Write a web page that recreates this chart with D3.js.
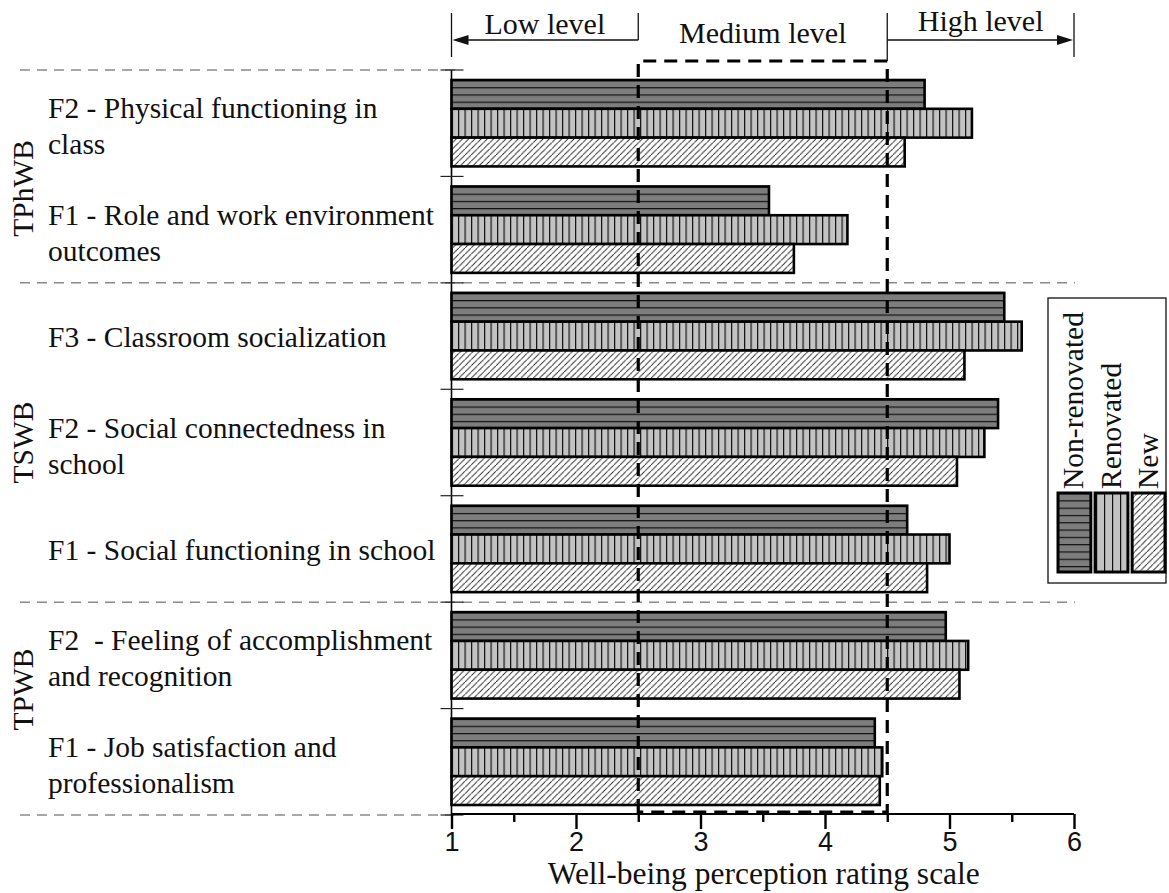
<!DOCTYPE html>
<html>
<head>
<meta charset="utf-8">
<script src="https://cdn.jsdelivr.net/npm/d3@7"></script>
<style>
  html, body { margin: 0; padding: 0; background: #fff; }
  svg { display: block; }
  text { white-space: pre; }
</style>
</head>
<body>
<script>
// ---------------- DATA ----------------
const categories = [
  "F2 - Physical functioning in class",
  "F1 - Role and work environment outcomes",
  "F3 - Classroom socialization",
  "F2 - Social connectedness in school",
  "F1 - Social functioning in school",
  "F2  - Feeling of accomplishment and recognition",
  "F1 - Job satisfaction and professionalism"
];
const categoryLabelLines = [
  ["F2 - Physical functioning in", "class"],
  ["F1 - Role and work environment", "outcomes"],
  ["F3 - Classroom socialization"],
  ["F2 - Social connectedness in", "school"],
  ["F1 - Social functioning in school"],
  ["F2  - Feeling of accomplishment", "and recognition"],
  ["F1 - Job satisfaction and", "professionalism"]
];
const groups = ["TPhWB", "TSWB", "TPWB"];
const groupFirst = [0, 2, 5];
const groupLast = [1, 4, 6];
const series = ["Non-renovated", "Renovated", "New"];
const nonRenovated = [4.80, 3.55, 5.44, 5.39, 4.66, 4.97, 4.40];
const renovated    = [5.18, 4.18, 5.58, 5.28, 5.00, 5.15, 4.46];
const newSchools   = [4.64, 3.75, 5.12, 5.06, 4.82, 5.08, 4.44];
const xTicks = [1, 2, 3, 4, 5, 6];
const xMinorTicks = [1.5, 2.5, 3.5, 4.5, 5.5];
const levelNames = ["Low level", "Medium level", "High level"];
const levelBounds = [1, 2.5, 4.5, 6];
const xTitle = "Well-being perception rating scale";

// ---------------- LAYOUT ----------------
const W = 1169, H = 893;
const serif = "'Liberation Serif', 'Times New Roman', serif";
const sans = "'Liberation Sans', Arial, sans-serif";

const svg = d3.select("body").append("svg").attr("width", W).attr("height", H);

const x = d3.scaleLinear().domain([1, 6]).range([451.5, 1074]);
const y = d3.scaleBand().domain(categories).range([70, 815]).padding(0);
const ySub = d3.scaleBand().domain(series).range([10, y.bandwidth() - 10]).padding(0);

const valuesBySeries = [nonRenovated, renovated, newSchools];

// ---------------- PATTERNS ----------------
const defs = svg.append("defs");
const pNR = defs.append("pattern").attr("id", "pNR")
  .attr("patternUnits", "objectBoundingBox").attr("width", 1).attr("height", 0.25);
pNR.append("rect").attr("width", 2000).attr("height", 100).attr("fill", "#7d7d7d");
pNR.append("rect").attr("x", 0).attr("y", 0).attr("width", 2000).attr("height", 1.2).attr("fill", "#111");
const pNRl = defs.append("pattern").attr("id", "pNRl")
  .attr("patternUnits", "userSpaceOnUse").attr("width", 40).attr("height", 7.3).attr("y", 493);
pNRl.append("rect").attr("width", 40).attr("height", 7.3).attr("fill", "#7d7d7d");
pNRl.append("rect").attr("width", 40).attr("height", 1.2).attr("fill", "#111");
const pR = defs.append("pattern").attr("id", "pR")
  .attr("patternUnits", "userSpaceOnUse").attr("width", 6.5).attr("height", 10).attr("x", 451.5);
pR.append("rect").attr("width", 6.5).attr("height", 10).attr("fill", "#c3c3c3");
pR.append("rect").attr("x", 0).attr("width", 1.2).attr("height", 10).attr("fill", "#111");
const pRl = defs.append("pattern").attr("id", "pRl")
  .attr("patternUnits", "userSpaceOnUse").attr("width", 8).attr("height", 10).attr("x", 1096);
pRl.append("rect").attr("width", 8).attr("height", 10).attr("fill", "#c3c3c3");
pRl.append("rect").attr("x", 0).attr("width", 1.2).attr("height", 10).attr("fill", "#111");
const pN = defs.append("pattern").attr("id", "pN")
  .attr("patternUnits", "userSpaceOnUse").attr("width", 6.2).attr("height", 6.2);
pN.append("rect").attr("width", 6.2).attr("height", 6.2).attr("fill", "#fff");
pN.append("path").attr("d", "M-1,7.2 L7.2,-1 M-3,1.2 L1.2,-3 M5,9.2 L9.2,5")
  .attr("stroke", "#222").attr("stroke-width", 0.9);

const fills = ["url(#pNR)", "url(#pR)", "url(#pN)"];
const legendFills = ["url(#pNRl)", "url(#pRl)", "url(#pN)"];

// ---------------- SEPARATORS ----------------
const sepGroup = svg.append("g");
const boundaries = [0].concat(groupLast.map(i => i + 1));
boundaries.forEach((b) => {
  const yy = b < categories.length ? y(categories[b]) : y.range()[1];
  const full = (b !== 0 && b !== categories.length);
  sepGroup.append("line")
    .attr("x1", 20).attr("x2", full ? 1075 : 456)
    .attr("y1", yy).attr("y2", yy)
    .attr("stroke", "#8a8a8a").attr("stroke-width", 1.5)
    .attr("stroke-dasharray", "10,7");
});

// ---------------- BARS ----------------
const barG = svg.append("g");
series.forEach((s, si) => {
  barG.selectAll(".bar" + si)
    .data(categories.map((c, ci) => ({ c, v: valuesBySeries[si][ci] })))
    .enter().append("rect")
    .attr("x", x(1))
    .attr("y", d => y(d.c) + ySub(s))
    .attr("width", d => x(d.v) - x(1))
    .attr("height", ySub.bandwidth())
    .attr("fill", fills[si])
    .attr("stroke", "#000").attr("stroke-width", 2.6);
});

// ---------------- Y AXIS ----------------
const yAxisG = svg.append("g");
yAxisG.append("line").attr("x1", x(1)).attr("x2", x(1))
  .attr("y1", y.range()[0]).attr("y2", y.range()[1])
  .attr("stroke", "#000").attr("stroke-width", 1.6);
const yBoundVals = categories.map(c => y(c)).concat([y.range()[1]]);
yAxisG.selectAll(".yt").data(yBoundVals).enter().append("line")
  .attr("x1", x(1) - 11).attr("x2", x(1) + 12)
  .attr("y1", d => d).attr("y2", d => d)
  .attr("stroke", "#222").attr("stroke-width", 1.2);

// ---------------- MEDIUM LEVEL DASHED BOX ----------------
const boxTop = 61, boxBot = 812;
svg.append("path")
  .attr("d", `M${x(levelBounds[1])},${boxBot} L${x(levelBounds[1])},${boxTop} L${x(levelBounds[2])},${boxTop} L${x(levelBounds[2])},${boxBot} Z`)
  .attr("fill", "none").attr("stroke", "#000").attr("stroke-width", 3.2)
  .attr("stroke-dasharray", "13,8");

// ---------------- X AXIS ----------------
const axisY = 814;
const xAxis = d3.axisBottom(x).tickValues(xTicks).tickSize(15).tickFormat(d3.format("d"));
const xg = svg.append("g").attr("transform", `translate(0,${axisY})`).call(xAxis);
xg.select(".domain").attr("stroke", "#000").attr("stroke-width", 2.2).attr("d", `M${x(1)},0H${x(6)}`);
xg.selectAll(".tick line").attr("stroke", "#000").attr("stroke-width", 2.4);
xg.selectAll(".tick text").attr("font-family", sans).attr("font-size", 27).attr("fill", "#111")
  .attr("dy", null).attr("y", 37);
const xMinor = d3.axisBottom(x).tickValues(xMinorTicks).tickSize(8).tickFormat("");
const xmg = svg.append("g").attr("transform", `translate(0,${axisY})`).call(xMinor);
xmg.select(".domain").remove();
xmg.selectAll(".tick line").attr("stroke", "#000").attr("stroke-width", 2.4);

svg.append("text").attr("x", (x(1) + x(6)) / 2 + 1).attr("y", 884)
  .attr("text-anchor", "middle").attr("font-family", serif).attr("font-size", 31.5)
  .attr("fill", "#111").text(xTitle);

// ---------------- CATEGORY LABELS ----------------
const labG = svg.append("g").attr("font-family", serif).attr("font-size", 29.5).attr("fill", "#111");
categories.forEach((c, ci) => {
  const lines = categoryLabelLines[ci];
  const cy = y(c) + y.bandwidth() / 2;
  const t = labG.append("text").attr("x", 48);
  if (lines.length === 1) {
    t.attr("y", cy + 11).text(lines[0]);
  } else {
    lines.forEach((ln, li) => {
      t.append("tspan").attr("x", 48).attr("y", cy - 5 + li * 36).text(ln);
    });
  }
});

// ---------------- GROUP LABELS ----------------
const groupOffsets = [12, 0, -19];
groups.forEach((g, gi) => {
  const y0 = y(categories[groupFirst[gi]]);
  const y1 = y(categories[groupLast[gi]]) + y.bandwidth();
  const cy = (y0 + y1) / 2 + groupOffsets[gi];
  svg.append("text")
    .attr("transform", `translate(33,${cy}) rotate(-90)`)
    .attr("text-anchor", "middle").attr("font-family", serif).attr("font-size", 29.5)
    .attr("fill", "#111").text(g);
});

// ---------------- LEVEL ANNOTATIONS ----------------
const annG = svg.append("g");
const vTop = 13;
[[levelBounds[0], 57], [levelBounds[1], 40], [levelBounds[2], 61], [levelBounds[3], 57]].forEach(([v, yb]) => {
  annG.append("line").attr("x1", x(v)).attr("x2", x(v)).attr("y1", vTop).attr("y2", yb)
    .attr("stroke", "#111").attr("stroke-width", 1.3);
});
const arrowY = 40;
annG.append("line").attr("x1", x(levelBounds[1])).attr("x2", x(levelBounds[0]) + 14)
  .attr("y1", arrowY).attr("y2", arrowY).attr("stroke", "#111").attr("stroke-width", 1.3);
annG.append("path").attr("d", `M${x(levelBounds[0]) + 1},${arrowY} L${x(levelBounds[0]) + 17},${arrowY - 5} L${x(levelBounds[0]) + 17},${arrowY + 5} Z`).attr("fill", "#111");
annG.append("line").attr("x1", x(levelBounds[2])).attr("x2", x(levelBounds[3]) - 14)
  .attr("y1", arrowY).attr("y2", arrowY).attr("stroke", "#111").attr("stroke-width", 1.3);
annG.append("path").attr("d", `M${x(levelBounds[3]) - 1},${arrowY} L${x(levelBounds[3]) - 17},${arrowY - 5} L${x(levelBounds[3]) - 17},${arrowY + 5} Z`).attr("fill", "#111");

const levelBaselines = [34, 43, 31];
levelNames.forEach((n, i) => {
  annG.append("text")
    .attr("x", (x(levelBounds[i]) + x(levelBounds[i + 1])) / 2)
    .attr("y", levelBaselines[i])
    .attr("text-anchor", "middle").attr("font-family", serif).attr("font-size", 30)
    .attr("fill", "#111").text(n);
});

// ---------------- LEGEND ----------------
const legG = svg.append("g");
legG.append("rect").attr("x", 1048).attr("y", 298).attr("width", 118).attr("height", 285)
  .attr("fill", "#fff").attr("stroke", "#111").attr("stroke-width", 1.3);
const legX = d3.scaleBand().domain(series).range([1057, 1166]).paddingInner(0.06);
series.forEach((s, si) => {
  legG.append("rect").attr("x", legX(s) + 1).attr("y", 493)
    .attr("width", legX.bandwidth() - 2).attr("height", 79)
    .attr("fill", legendFills[si]).attr("stroke", "#000").attr("stroke-width", 3);
  legG.append("text")
    .attr("transform", `translate(${legX(s) + legX.bandwidth() / 2 + 9},489) rotate(-90)`)
    .attr("font-family", serif).attr("font-size", 29.5).attr("fill", "#111").text(s);
});
</script>
</body>
</html>
